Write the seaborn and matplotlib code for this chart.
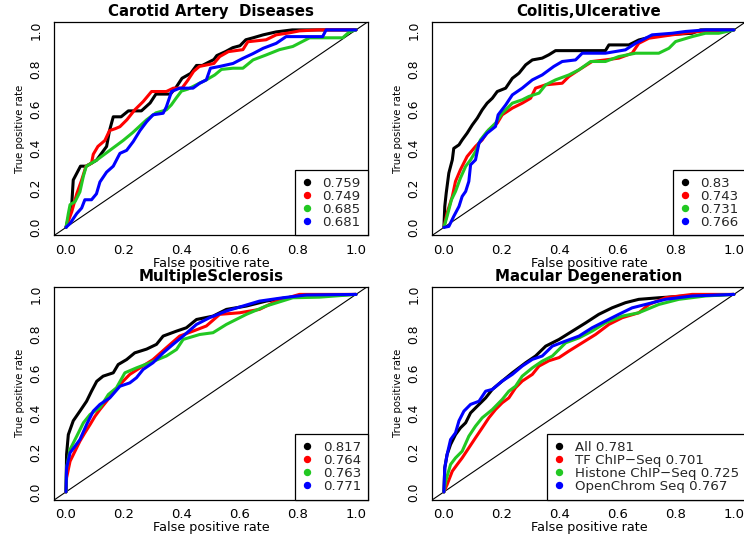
import numpy as np
import pandas as pd
import matplotlib
matplotlib.use("Agg")
import matplotlib.pyplot as plt
import seaborn as sns
from matplotlib.lines import Line2D

# ---------------- data ----------------
titles = ["Carotid Artery  Diseases", "Colitis,Ulcerative", "MultipleSclerosis", "Macular Degeneration"]
series_names = ["All", "TF ChIP\u2212Seq", "Histone ChIP\u2212Seq", "OpenChrom Seq"]
tick_values = [0.0, 0.2, 0.4, 0.6, 0.8, 1.0]
tick_labels = ["0.0", "0.2", "0.4", "0.6", "0.8", "1.0"]

# Carotid Artery Diseases
car_all_fpr = [0, 0.02, 0.025, 0.05, 0.07, 0.105, 0.14, 0.15, 0.163, 0.19, 0.215, 0.26, 0.29, 0.31, 0.36, 0.38, 0.40, 0.43, 0.45, 0.47, 0.51, 0.52, 0.55, 0.575, 0.60, 0.62, 0.645, 0.68, 0.725, 0.78, 1.0]
car_all_tpr = [0, 0.12, 0.24, 0.31, 0.31, 0.34, 0.41, 0.49, 0.56, 0.56, 0.59, 0.59, 0.63, 0.675, 0.675, 0.71, 0.755, 0.78, 0.82, 0.82, 0.85, 0.87, 0.89, 0.91, 0.92, 0.95, 0.96, 0.975, 0.99, 1.0, 1.0]
car_tf_fpr = [0, 0.02, 0.037, 0.054, 0.069, 0.088, 0.094, 0.11, 0.134, 0.15, 0.17, 0.186, 0.21, 0.237, 0.266, 0.295, 0.346, 0.37, 0.40, 0.42, 0.44, 0.46, 0.51, 0.53, 0.56, 0.61, 0.627, 0.69, 0.725, 0.77, 0.805, 0.87, 1.0]
car_tf_tpr = [0, 0.08, 0.17, 0.24, 0.31, 0.325, 0.37, 0.41, 0.44, 0.49, 0.50, 0.51, 0.545, 0.595, 0.637, 0.688, 0.688, 0.705, 0.705, 0.745, 0.79, 0.815, 0.83, 0.865, 0.89, 0.90, 0.94, 0.95, 0.975, 0.985, 0.995, 1.0, 1.0]
car_hist_fpr = [0, 0.008, 0.014, 0.031, 0.048, 0.06, 0.07, 0.105, 0.151, 0.197, 0.23, 0.278, 0.31, 0.346, 0.363, 0.38, 0.398, 0.42, 0.46, 0.484, 0.513, 0.536, 0.576, 0.61, 0.645, 0.69, 0.736, 0.782, 0.84, 0.954, 0.977, 1.0]
car_hist_tpr = [0, 0.07, 0.115, 0.13, 0.18, 0.26, 0.31, 0.34, 0.39, 0.44, 0.48, 0.545, 0.58, 0.595, 0.62, 0.655, 0.69, 0.70, 0.73, 0.747, 0.772, 0.80, 0.806, 0.806, 0.848, 0.873, 0.90, 0.916, 0.96, 0.96, 0.99, 1.0]
car_open_fpr = [0, 0.014, 0.037, 0.054, 0.065, 0.088, 0.105, 0.117, 0.14, 0.163, 0.186, 0.209, 0.232, 0.255, 0.278, 0.30, 0.335, 0.346, 0.364, 0.392, 0.438, 0.461, 0.484, 0.498, 0.53, 0.576, 0.61, 0.645, 0.68, 0.725, 0.759, 0.885, 0.897, 1.0]
car_open_tpr = [0, 0.02, 0.07, 0.098, 0.14, 0.14, 0.17, 0.23, 0.28, 0.31, 0.375, 0.39, 0.435, 0.49, 0.535, 0.57, 0.578, 0.61, 0.688, 0.705, 0.705, 0.73, 0.747, 0.806, 0.815, 0.83, 0.856, 0.88, 0.907, 0.932, 0.966, 0.966, 1.0, 1.0]
car_auc = ["0.759", "0.749", "0.685", "0.681"]

# Colitis, Ulcerative
col_all_fpr = [0, 0.003, 0.008, 0.017, 0.029, 0.034, 0.052, 0.063, 0.08, 0.098, 0.115, 0.132, 0.149, 0.167, 0.184, 0.213, 0.236, 0.259, 0.282, 0.305, 0.339, 0.362, 0.385, 0.557, 0.569, 0.638, 0.672, 0.718, 0.764, 0.856, 0.885, 1.0]
col_all_tpr = [0, 0.106, 0.174, 0.275, 0.342, 0.40, 0.418, 0.443, 0.477, 0.519, 0.553, 0.595, 0.629, 0.654, 0.688, 0.705, 0.755, 0.781, 0.823, 0.848, 0.857, 0.874, 0.895, 0.895, 0.924, 0.924, 0.949, 0.966, 0.975, 0.983, 1.0, 1.0]
col_tf_fpr = [0, 0.011, 0.029, 0.04, 0.057, 0.08, 0.109, 0.132, 0.155, 0.184, 0.201, 0.236, 0.27, 0.299, 0.316, 0.351, 0.408, 0.431, 0.466, 0.511, 0.557, 0.603, 0.649, 0.672, 0.707, 0.787, 0.879, 1.0]
col_tf_tpr = [0, 0.073, 0.157, 0.233, 0.292, 0.359, 0.41, 0.443, 0.494, 0.528, 0.57, 0.604, 0.629, 0.654, 0.705, 0.722, 0.73, 0.764, 0.798, 0.84, 0.848, 0.857, 0.882, 0.932, 0.958, 0.975, 0.992, 1.0]
col_hist_fpr = [0, 0.011, 0.026, 0.04, 0.057, 0.075, 0.092, 0.109, 0.126, 0.149, 0.178, 0.201, 0.236, 0.27, 0.293, 0.328, 0.351, 0.385, 0.431, 0.466, 0.506, 0.557, 0.603, 0.661, 0.741, 0.776, 0.799, 0.856, 0.902, 0.948, 1.0]
col_hist_tpr = [0, 0.056, 0.14, 0.182, 0.25, 0.309, 0.342, 0.384, 0.443, 0.486, 0.528, 0.578, 0.629, 0.646, 0.663, 0.68, 0.722, 0.747, 0.772, 0.798, 0.84, 0.84, 0.865, 0.882, 0.882, 0.907, 0.941, 0.966, 0.983, 0.983, 1.0]
col_open_fpr = [0, 0.017, 0.034, 0.052, 0.063, 0.075, 0.086, 0.092, 0.109, 0.121, 0.149, 0.178, 0.187, 0.213, 0.236, 0.27, 0.305, 0.339, 0.379, 0.408, 0.454, 0.477, 0.557, 0.626, 0.661, 0.718, 0.787, 0.833, 0.902, 1.0]
col_open_tpr = [0, 0.005, 0.056, 0.106, 0.157, 0.182, 0.233, 0.317, 0.342, 0.427, 0.477, 0.511, 0.57, 0.62, 0.671, 0.705, 0.747, 0.772, 0.815, 0.84, 0.848, 0.882, 0.882, 0.899, 0.932, 0.975, 0.983, 0.992, 1.0, 1.0]
col_auc = ["0.83", "0.743", "0.731", "0.766"]

# Multiple Sclerosis
ms_all_fpr = [0, 0.002, 0.008, 0.025, 0.048, 0.071, 0.088, 0.106, 0.128, 0.163, 0.18, 0.209, 0.237, 0.278, 0.312, 0.335, 0.381, 0.415, 0.45, 0.507, 0.553, 0.622, 0.69, 0.759, 0.828, 1.0]
ms_all_tpr = [0, 0.19, 0.29, 0.36, 0.409, 0.459, 0.51, 0.56, 0.586, 0.603, 0.645, 0.67, 0.704, 0.723, 0.747, 0.789, 0.814, 0.831, 0.873, 0.89, 0.924, 0.941, 0.966, 0.983, 0.992, 1.0]
ms_tf_fpr = [0, 0.002, 0.014, 0.031, 0.048, 0.065, 0.083, 0.10, 0.117, 0.14, 0.163, 0.186, 0.22, 0.255, 0.30, 0.346, 0.392, 0.438, 0.484, 0.53, 0.599, 0.667, 0.725, 0.805, 1.0]
ms_tf_tpr = [0, 0.071, 0.155, 0.206, 0.257, 0.299, 0.341, 0.383, 0.417, 0.459, 0.502, 0.544, 0.595, 0.628, 0.67, 0.73, 0.789, 0.814, 0.84, 0.899, 0.907, 0.924, 0.966, 1.0, 1.0]
ms_hist_fpr = [0, 0.002, 0.014, 0.037, 0.06, 0.083, 0.117, 0.146, 0.174, 0.203, 0.243, 0.289, 0.346, 0.381, 0.404, 0.461, 0.507, 0.553, 0.622, 0.69, 0.782, 0.874, 1.0]
ms_hist_tpr = [0, 0.122, 0.215, 0.282, 0.35, 0.392, 0.426, 0.493, 0.527, 0.603, 0.628, 0.654, 0.688, 0.721, 0.772, 0.797, 0.806, 0.848, 0.899, 0.941, 0.983, 0.986, 1.0]
ms_open_fpr = [0, 0.002, 0.014, 0.031, 0.048, 0.071, 0.094, 0.117, 0.151, 0.186, 0.22, 0.243, 0.266, 0.30, 0.335, 0.369, 0.404, 0.45, 0.495, 0.553, 0.61, 0.667, 0.748, 0.828, 1.0]
ms_open_tpr = [0, 0.122, 0.198, 0.231, 0.265, 0.341, 0.409, 0.443, 0.476, 0.535, 0.552, 0.578, 0.62, 0.654, 0.704, 0.747, 0.789, 0.848, 0.882, 0.916, 0.941, 0.966, 0.983, 0.997, 1.0]
ms_auc = ["0.817", "0.764", "0.763", "0.771"]

# Macular Degeneration
mac_all_fpr = [0, 0.003, 0.011, 0.023, 0.04, 0.057, 0.075, 0.092, 0.115, 0.144, 0.167, 0.201, 0.236, 0.282, 0.316, 0.351, 0.397, 0.443, 0.489, 0.534, 0.58, 0.626, 0.672, 0.741, 0.833, 1.0]
mac_all_tpr = [0, 0.122, 0.189, 0.24, 0.29, 0.324, 0.35, 0.40, 0.434, 0.476, 0.519, 0.561, 0.603, 0.654, 0.688, 0.738, 0.772, 0.814, 0.856, 0.899, 0.932, 0.958, 0.975, 0.983, 0.992, 1.0]
mac_tf_fpr = [0, 0.011, 0.029, 0.046, 0.063, 0.086, 0.109, 0.132, 0.155, 0.178, 0.201, 0.224, 0.247, 0.27, 0.305, 0.328, 0.362, 0.397, 0.431, 0.477, 0.523, 0.569, 0.615, 0.672, 0.707, 0.764, 0.856, 1.0]
mac_tf_tpr = [0, 0.037, 0.105, 0.139, 0.172, 0.223, 0.274, 0.324, 0.375, 0.417, 0.451, 0.476, 0.527, 0.561, 0.595, 0.637, 0.664, 0.68, 0.713, 0.755, 0.797, 0.848, 0.882, 0.907, 0.949, 0.983, 1.0, 1.0]
mac_hist_fpr = [0, 0.006, 0.023, 0.04, 0.063, 0.086, 0.109, 0.132, 0.167, 0.201, 0.224, 0.247, 0.27, 0.305, 0.339, 0.374, 0.42, 0.466, 0.511, 0.557, 0.615, 0.672, 0.741, 0.81, 0.902, 1.0]
mac_hist_tpr = [0, 0.054, 0.139, 0.172, 0.206, 0.282, 0.333, 0.375, 0.417, 0.468, 0.51, 0.535, 0.586, 0.628, 0.662, 0.688, 0.755, 0.78, 0.814, 0.856, 0.89, 0.907, 0.949, 0.975, 0.992, 1.0]
mac_open_fpr = [0, 0.003, 0.011, 0.023, 0.04, 0.052, 0.069, 0.092, 0.121, 0.144, 0.167, 0.201, 0.236, 0.27, 0.305, 0.339, 0.374, 0.42, 0.466, 0.511, 0.557, 0.603, 0.649, 0.695, 0.764, 0.856, 1.0]
mac_open_tpr = [0, 0.122, 0.189, 0.265, 0.299, 0.36, 0.409, 0.443, 0.459, 0.51, 0.519, 0.561, 0.595, 0.637, 0.671, 0.688, 0.738, 0.764, 0.789, 0.831, 0.865, 0.899, 0.932, 0.949, 0.975, 0.992, 1.0]
mac_auc = ["0.781", "0.701", "0.725", "0.767"]

panels = [
    ([(car_all_fpr, car_all_tpr), (car_tf_fpr, car_tf_tpr), (car_hist_fpr, car_hist_tpr), (car_open_fpr, car_open_tpr)], car_auc, False),
    ([(col_all_fpr, col_all_tpr), (col_tf_fpr, col_tf_tpr), (col_hist_fpr, col_hist_tpr), (col_open_fpr, col_open_tpr)], col_auc, False),
    ([(ms_all_fpr, ms_all_tpr), (ms_tf_fpr, ms_tf_tpr), (ms_hist_fpr, ms_hist_tpr), (ms_open_fpr, ms_open_tpr)], ms_auc, False),
    ([(mac_all_fpr, mac_all_tpr), (mac_tf_fpr, mac_tf_tpr), (mac_hist_fpr, mac_hist_tpr), (mac_open_fpr, mac_open_tpr)], mac_auc, True),
]

colors = ["#000000", "#FF0000", "#22C822", "#0000FF"]

# ---------------- figure ----------------
sns.set_theme(style="white")
plt.rcParams["font.family"] = ["DejaVu Sans"]
plt.rcParams["axes.linewidth"] = 0.9

fig = plt.figure(figsize=(7.44, 5.36), dpi=100)
W, H = 744.0, 536.0
positions = [
    (54.4, 22.0), (432.3, 22.0), (54.4, 286.5), (432.3, 286.5)
]
aw, ah = 313.2, 213.3

for i, (pos, (curves, aucs, named)) in enumerate(zip(positions, panels)):
    left, top = pos
    ax = fig.add_axes([left / W, 1 - (top + ah) / H, aw / W, ah / H])
    for j, (fpr, tpr) in enumerate(curves):
        df = pd.DataFrame({"fpr": fpr, "tpr": tpr})
        sns.lineplot(data=df, x="fpr", y="tpr", ax=ax, sort=False, estimator=None,
                     color=colors[j], linewidth=2.2, zorder=3 + j)
    ax.axline((0, 0), (1, 1), color="black", linewidth=0.8, zorder=2)
    ax.set_xlim(-0.04, 1.04)
    ax.set_ylim(-0.04, 1.04)
    ax.set_xticks(tick_values)
    ax.set_xticklabels(tick_labels, fontsize=9.5)
    ax.set_yticks(tick_values)
    ax.set_yticklabels(tick_labels, fontsize=8.8, rotation=90, va="center")
    ax.tick_params(axis="x", direction="out", length=4.5, width=0.8, pad=1.5, colors="black")
    ax.tick_params(axis="y", direction="out", length=6, width=0.8, pad=2.5, colors="black")
    for s in ax.spines.values():
        s.set_color("black")
        s.set_linewidth(0.9)
    ax.set_xlabel("False positive rate", fontsize=9.2, labelpad=0, color="black")
    ax.set_ylabel("True positive rate", fontsize=7.3, labelpad=3, color="black")
    ax.set_title(titles[i], fontsize=10.8, fontweight="bold", pad=4, color="black")

    if named:
        labels = [f"{n} {a}" for n, a in zip(series_names, aucs)]
    else:
        labels = aucs
    handles = [Line2D([], [], linestyle="none", marker="o", markersize=4.3,
                      markerfacecolor=c, markeredgecolor=c) for c in colors]
    leg = ax.legend(handles, labels, loc="lower right", bbox_to_anchor=(1, 0),
                    borderaxespad=0, fontsize=9.6, frameon=True, fancybox=False,
                    framealpha=1, edgecolor="black", handlelength=0.8,
                    handletextpad=0.75, labelspacing=0.0, borderpad=0.5)
    leg.get_frame().set_linewidth(0.9)

fig.savefig("out.png", dpi=100)
